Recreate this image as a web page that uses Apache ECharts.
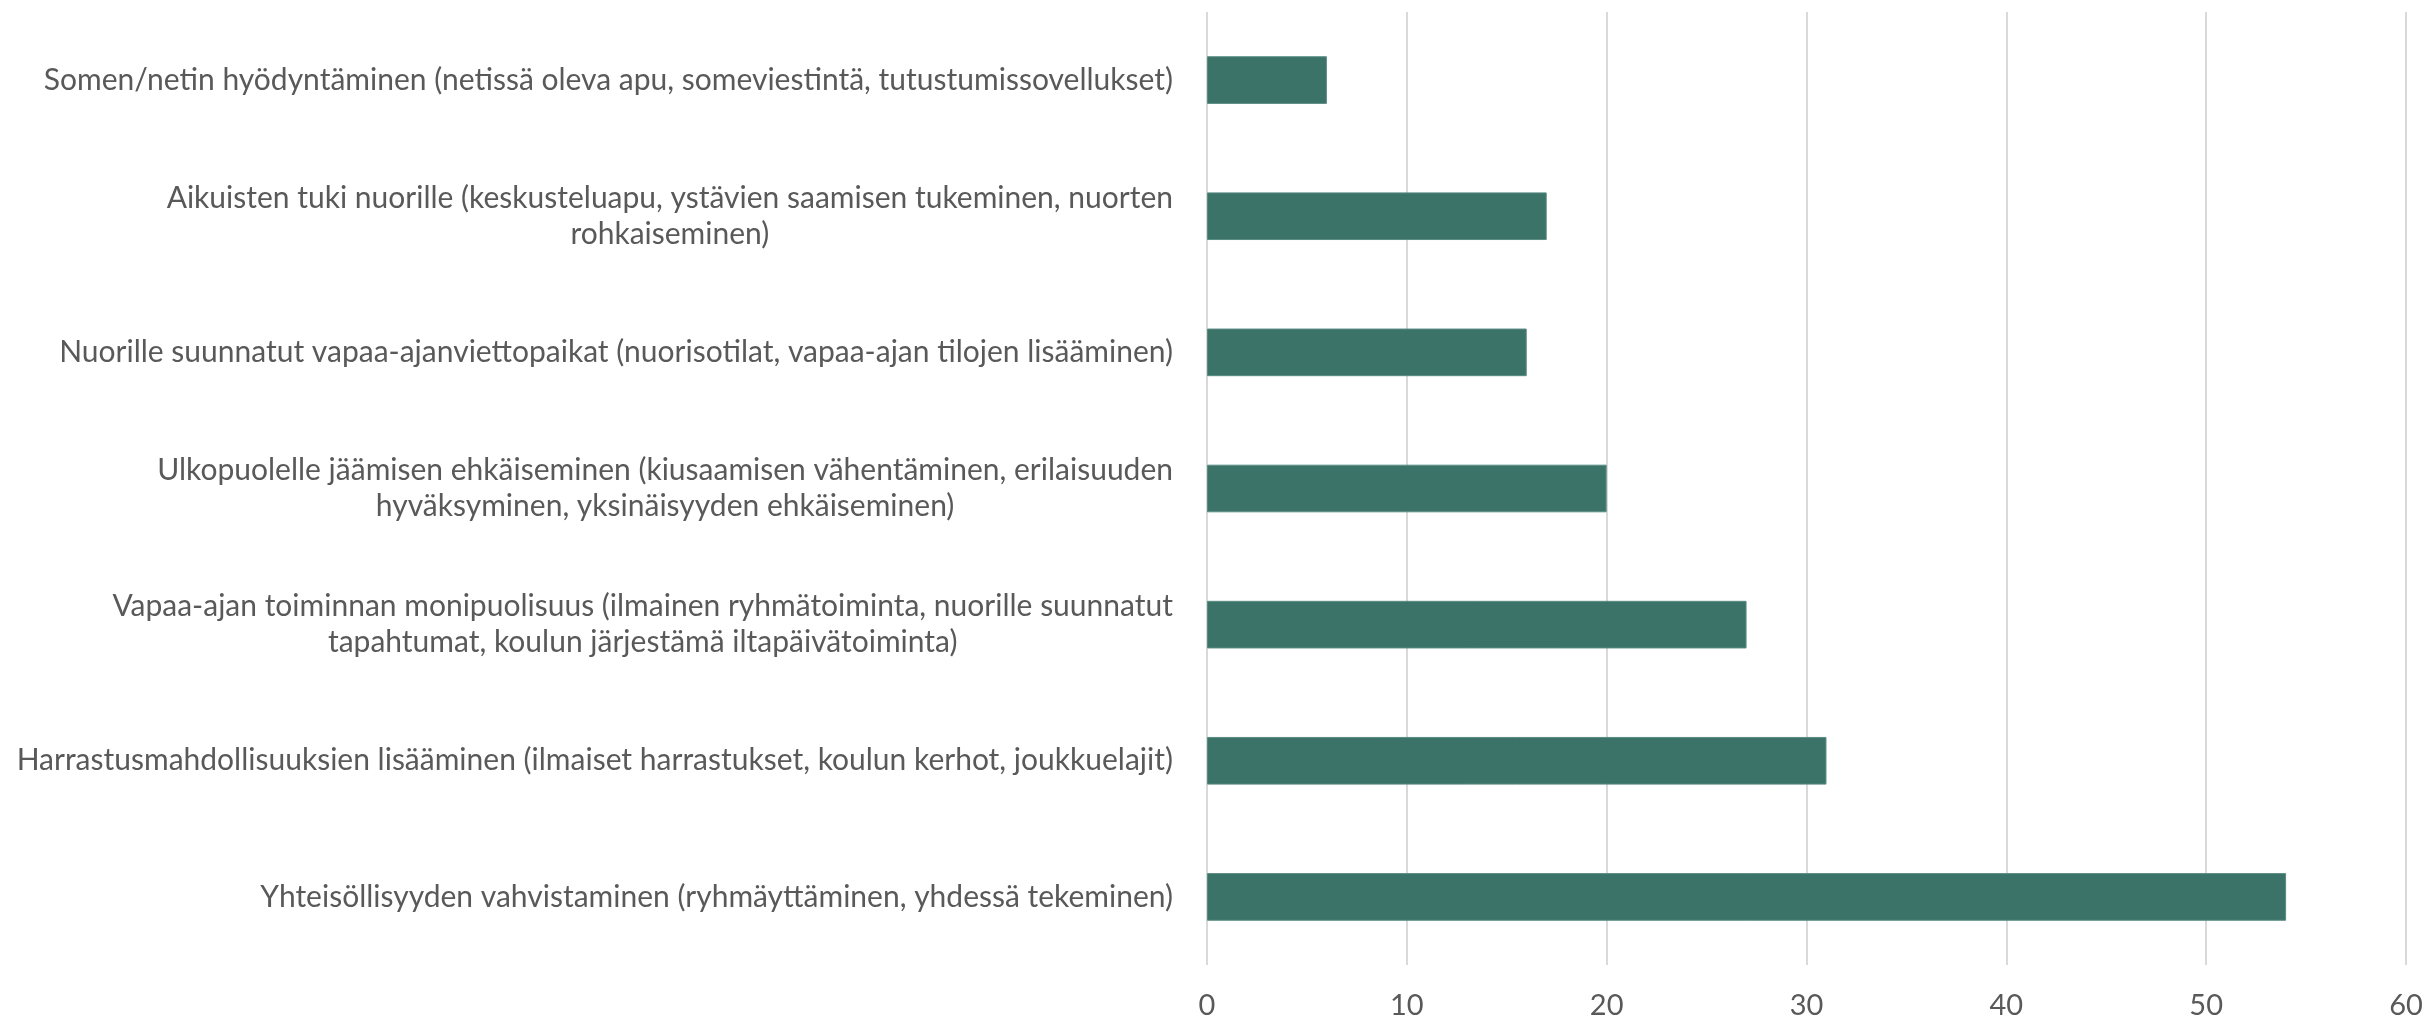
<!DOCTYPE html>
<html>
<head>
<meta charset="utf-8">
<script src="https://cdn.jsdelivr.net/npm/echarts@6/dist/echarts.min.js"></script>
<style>
html,body{margin:0;padding:0;background:#fff;}
#chart{width:2428px;height:1020px;}
</style>
</head>
<body>
<div id="chart"></div>
<script>
// Categories listed bottom to top
const categories = [
  "Yhteisöllisyyden vahvistaminen (ryhmäyttäminen, yhdessä tekeminen)",
  "Harrastusmahdollisuuksien lisääminen (ilmaiset harrastukset, koulun kerhot, joukkuelajit)",
  "Vapaa-ajan toiminnan monipuolisuus (ilmainen ryhmätoiminta, nuorille suunnatut\ntapahtumat, koulun järjestämä iltapäivätoiminta)",
  "Ulkopuolelle jäämisen ehkäiseminen (kiusaamisen vähentäminen, erilaisuuden\nhyväksyminen, yksinäisyyden ehkäiseminen)",
  "Nuorille suunnatut vapaa-ajanviettopaikat (nuorisotilat, vapaa-ajan tilojen lisääminen)",
  "Aikuisten tuki nuorille (keskusteluapu, ystävien saamisen tukeminen, nuorten\nrohkaiseminen)",
  "Somen/netin hyödyntäminen (netissä oleva apu, someviestintä, tutustumissovellukset)"
];
const values = [54, 31, 27, 20, 16, 17, 6];
const xTicks = [0, 10, 20, 30, 40, 50, 60];

const chart = echarts.init(document.getElementById('chart'), null, {renderer: 'canvas'});
chart.setOption({
  animation: false,
  backgroundColor: '#ffffff',
  grid: {left: 1207, right: 22, top: 12, bottom: 54, containLabel: false},
  xAxis: {
    type: 'value',
    min: xTicks[0],
    max: xTicks[xTicks.length - 1],
    interval: 10,
    axisLine: {show: false},
    axisTick: {show: false},
    splitLine: {show: true, lineStyle: {color: '#d9d9d9', width: 2}},
    axisLabel: {color: '#595959', fontFamily: 'Lato', fontSize: 29, margin: 26}
  },
  yAxis: {
    type: 'category',
    data: categories,
    axisLine: {show: false},
    axisTick: {show: false},
    splitLine: {show: false},
    axisLabel: {
      color: '#595959',
      fontFamily: 'Lato',
      fontSize: 30,
      margin: 34,
      align: 'right',
      formatter: function (v) {
        return v.split('\n').map(function (l) { return '{c|' + l + '}'; }).join('\n');
      },
      rich: {
        c: {align: 'center', color: '#595959', fontFamily: 'Lato', fontSize: 30, lineHeight: 36}
      }
    }
  },
  series: [{
    type: 'bar',
    data: values,
    barCategoryGap: '65%',
    itemStyle: {color: '#3b7369', borderColor: '#5a8c83', borderWidth: 1}
  }]
});
</script>
</body>
</html>
